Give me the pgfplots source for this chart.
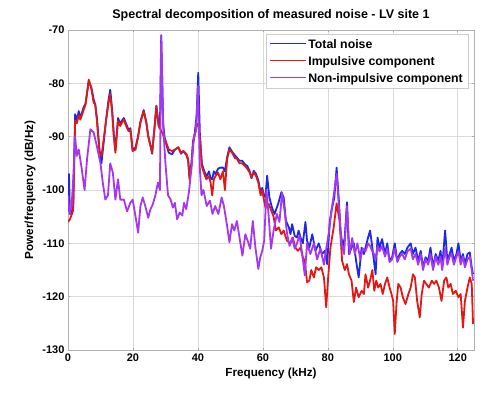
\documentclass[border=0pt]{standalone}
\usepackage{pgfplots}
\pgfplotsset{compat=1.18}
\usepackage{fontspec}
\setmainfont{Liberation Sans}
\definecolor{cblue}{RGB}{30,40,230}
\definecolor{cred}{RGB}{225,25,20}
\definecolor{cpurple}{RGB}{165,55,240}
\begin{document}
\begin{tikzpicture}
\path[use as bounding box] (-68pt,-42pt) rectangle (432pt,350pt);
\begin{axis}[
 at={(0pt,0pt)}, anchor=south west,
 scale only axis, width=406pt, height=320pt,
 xmin=0, xmax=125, ymin=-130, ymax=-70,
 xtick={0,20,...,120}, ytick={-130,-120,...,-70},
 grid=major, major grid style={gray!30, line width=0.6pt},
 axis line style={gray!60, line width=0.8pt},
 tick style={gray!70, line width=0.6pt}, tick align=inside, major tick length=2pt,
 tick label style={font=\bfseries\fontsize{11}{13}\selectfont},
 /pgf/number format/assume math mode=true,
 title style={font=\bfseries\fontsize{12.5}{14}\selectfont, yshift=-1pt},
 label style={font=\bfseries\fontsize{11.7}{14}\selectfont},
 title={Spectral decomposition of measured noise - LV site 1},
 xlabel={Frequency (kHz)}, ylabel={Power/frequency (dB/Hz)},
 legend style={at={(0.9852,0.9875)}, anchor=north east, draw=gray!40, fill=white,
   font=\bfseries\fontsize{12.3}{14}\selectfont, row sep=2.6pt, inner sep=3pt},
 legend cell align=left,
 legend image code/.code={\draw[#1, line width=1.6pt] (0pt,0.8pt) -- (36pt,0.8pt);},
 every axis plot/.append style={line width=1.8pt, line join=round},
]
% Total noise
\addplot[cblue] coordinates {
(0,-104) (0.3,-97) (0.6,-104.5) (1.2,-104) (1.6,-103) (2.2,-85.8) (2.7,-87) (3.3,-85.2) (3.8,-86.5) (4.8,-84.5)
(5.4,-83.8) (6.4,-79.5) (7.2,-80.8) (7.9,-83) (8.4,-84) (8.9,-86.5) (9.7,-92.5) (10.3,-95) (11,-91) (11.7,-87)
(12.5,-83) (13,-81.2) (13.6,-85) (14.1,-89.5) (14.6,-92.5) (15.4,-86.5) (16.1,-87.6) (16.6,-87) (17.2,-86.5) (17.9,-87.6)
(18.7,-88.8) (19.2,-88.4) (19.9,-92.5) (20.8,-92) (21.6,-89.8) (22.3,-87.2) (23.3,-85) (24.1,-87.2) (24.7,-89.8) (25.4,-91.6)
(25.9,-93.2) (26.7,-87.8) (27.2,-84.2) (27.9,-87.8) (28.3,-88.5) (28.7,-71) (29.3,-87.5) (29.7,-90) (30.2,-91.3) (31,-93)
(32,-93.3) (33,-92.4) (34,-92) (34.8,-93.2) (35.5,-92.7) (36.5,-93.5) (37,-94.5) (37.4,-97.5) (38,-95) (38.5,-90.8)
(39,-89.5) (39.6,-86) (40.1,-78) (40.6,-89.5) (41.2,-95) (41.8,-96.2) (42.6,-97.5) (43.4,-96.5) (43.9,-97.8) (44.4,-98)
(44.9,-96.5) (45.4,-97) (46.2,-96) (46.9,-95.8) (47.7,-95.8) (48.3,-96.5) (49,-93.8) (49.7,-92) (50.5,-92.8) (51.4,-93.5)
(52.1,-94) (52.8,-94.5) (53.6,-94.5) (54.5,-95.2) (55.2,-95.5) (55.9,-96.4) (56.5,-97.8) (57.2,-96.4) (57.9,-97) (58.6,-98.2)
(59.3,-100.5) (59.8,-99.6) (60.3,-101) (60.8,-101.4) (61.3,-97.3) (62.0,-101.4) (62.8,-103.3) (63.6,-104.5) (64.7,-102.6) (65.7,-100.4)
(66.4,-101.4) (67.1,-105.8) (68.0,-107) (68.5,-108.3) (69.0,-106.4) (69.8,-108.6) (70.5,-108.9) (71.0,-107.6) (71.6,-108.9) (72.3,-110)
(73.1,-106) (73.6,-109.5) (74.3,-110.8) (75.2,-108.3) (76.2,-111.4) (77.2,-110) (78.2,-112) (79.1,-111.4) (79.8,-113.9) (80.6,-105.8)
(81.3,-103.3) (82.0,-101.4) (82.7,-95.8) (83.4,-102) (83.9,-107.6) (84.6,-110.8) (85.2,-108.9) (85.9,-102.3) (86.5,-112) (87.3,-110.8)
(88.0,-110) (88.7,-113.3) (89.5,-116.4) (90.4,-110.8) (91.1,-112) (91.6,-110.8) (92.4,-108.9) (93,-107.6) (93.7,-110.8) (94.2,-113.3)
(94.7,-115.8) (95.3,-108.9) (95.9,-110.8) (96.7,-109.2) (97.6,-112) (98.3,-110) (99,-113.3) (99.8,-112.6) (100.6,-110) (101.4,-113.3)
(102.1,-112) (102.9,-111.4) (103.7,-112) (104.5,-110.8) (105.5,-110) (106.2,-112) (107,-110.8) (107.8,-113.3) (108.6,-111.4) (109.3,-114.5)
(110.1,-112.6) (110.9,-113.3) (111.6,-110.8) (112.4,-114.5) (113.2,-112) (114,-113.3) (114.7,-111.4) (115.2,-114.5) (116.1,-107.6) (116.8,-113.3)
(117.5,-112) (118.1,-110.8) (118.8,-113.3) (119.6,-112) (120.2,-110) (120.9,-113.3) (121.6,-112) (122.2,-113.9) (123,-112) (123.7,-111.7)
(124.3,-114.5) (124.7,-115.8)
};
\addlegendentry{Total noise}
% Impulsive component
\addplot[cred] coordinates {
(0,-106) (0.6,-105.5) (1.2,-104.5) (1.6,-103.8) (2.2,-87) (2.7,-87.5) (3.3,-86) (3.8,-86.8) (4.8,-85) (5.4,-84)
(6.4,-79.3) (7.2,-81) (7.9,-83.6) (8.4,-84) (8.9,-87) (9.7,-93) (10.3,-93.6) (11,-90.5) (11.7,-87) (12.5,-83.6)
(13,-82) (13.6,-85.5) (14.1,-90) (14.6,-93) (15.4,-87) (16.1,-88) (16.6,-87.4) (17.2,-86.8) (17.9,-88) (18.7,-89)
(19.2,-88.7) (19.9,-92.7) (20.8,-92.4) (21.6,-90) (22.3,-87.4) (23.3,-85.2) (24.1,-87.4) (24.7,-90) (25.4,-91.8) (25.9,-93)
(26.7,-88) (27.2,-84.3) (27.9,-88) (28.8,-89) (29.5,-90) (30.2,-91) (31,-92.4) (32,-92.7) (33,-92.4) (34,-92)
(34.8,-93) (35.5,-92.7) (36.5,-93.3) (37,-94.2) (37.4,-98) (38,-95.5) (38.5,-91.4) (39,-89.8) (39.6,-87.5) (40.1,-88)
(40.6,-90) (41.2,-95.5) (41.8,-96.7) (42.6,-98) (43.4,-97.4) (43.9,-98.6) (44.4,-101) (44.9,-98) (45.4,-97.4) (46.2,-96.7)
(46.9,-98) (47.7,-96.5) (48.3,-100) (49,-94.2) (49.7,-92.4) (50.5,-93) (51.4,-94) (52.1,-94.2) (52.8,-95) (53.6,-95)
(54.5,-95.5) (55.2,-96) (55.9,-96.7) (56.5,-97.6) (57.2,-96.7) (57.9,-97.4) (58.6,-98.6) (59.3,-101) (59.8,-100) (60.3,-101.8)
(60.8,-103.3) (61.8,-102.6) (62.6,-103.9) (63.3,-105) (64.0,-107.6) (64.9,-107) (65.7,-108.3) (66.4,-107.6) (67.4,-109.5) (68.5,-110)
(69.2,-108.9) (70.0,-110.8) (70.8,-111.4) (71.6,-110.8) (72.3,-112.6) (72.9,-113.3) (73.6,-117.3) (74.3,-117) (74.9,-115) (75.7,-116.4)
(76.4,-114.5) (77.2,-115) (78.0,-114.5) (78.8,-116.4) (79.5,-122) (80.1,-116.4) (80.8,-110.8) (81.8,-107) (82.7,-102.5) (83.6,-105.8)
(84.4,-113.3) (85.2,-115) (85.9,-113.9) (86.5,-115.8) (87.3,-117) (88.0,-121) (88.7,-118.3) (89.5,-120.1) (90.4,-118.9) (91.1,-119.5)
(91.6,-115.8) (92.4,-118.3) (93.0,-117) (93.7,-115) (94.3,-118.9) (94.9,-117) (95.5,-118.3) (96.2,-117.6) (96.9,-119.5) (97.6,-117.6)
(98.3,-116.4) (99.0,-118.3) (99.6,-119.5) (100.1,-120.8) (100.6,-127) (101.2,-120.8) (101.7,-117.6) (102.4,-118.3) (103.1,-120.1) (103.9,-121.4)
(104.8,-119.5) (105.5,-118.3) (106.2,-115.8) (106.8,-116.4) (107.5,-120.8) (108.3,-123.9) (108.9,-119.5) (109.6,-117) (110.3,-117.6) (111.1,-118.3)
(112,-117) (112.7,-117.6) (113.4,-117) (114.2,-118.3) (115,-120.8) (115.8,-117) (116.5,-116.4) (117.1,-118.3) (117.8,-117.6) (118.5,-119.5)
(119.4,-118.9) (120.2,-120.1) (120.9,-119.5) (121.6,-125.8) (122.2,-120.8) (123,-118.3) (123.7,-116.4) (124.3,-117.6) (124.7,-125.1)
};
\addlegendentry{Impulsive component}
% Non-impulsive component
\addplot[cpurple] coordinates {
(0,-101) (0.5,-104.5) (1.1,-103) (1.6,-98) (2.2,-90) (2.7,-93.6) (3.3,-92.4) (4.1,-95.5) (5.1,-100) (5.9,-94)
(6.9,-88.6) (7.9,-89.2) (8.9,-91.8) (10,-95) (10.7,-98.6) (11.5,-101.8) (12.3,-101) (13,-95) (13.8,-96.7) (14.6,-101.8)
(15.4,-98) (16.1,-101.8) (17.2,-101.8) (18.2,-104) (19.2,-102.4) (19.9,-101.8) (20.8,-105) (21.6,-108) (22.3,-103) (23,-101.4)
(23.8,-103) (24.7,-105.2) (25.4,-103.6) (26.1,-102.7) (26.9,-101) (27.7,-98.6) (28.3,-100) (28.7,-71) (29.3,-88) (30,-95)
(30.8,-101) (31.6,-101.8) (32.3,-103.3) (32.9,-102.4) (33.6,-105.5) (34.4,-104.2) (35.2,-104.8) (35.7,-102.4) (36.4,-103.6) (37.2,-100.5)
(38,-96) (38.8,-89.8) (39.4,-89) (40,-80.5) (40.6,-96) (41.1,-101) (41.7,-100) (42.7,-103) (43.7,-102) (44.5,-104.5)
(45.3,-103) (46.3,-104.5) (47.3,-101.4) (48,-103) (48.9,-106.4) (49.7,-109.8) (50.5,-106.4) (51.2,-107.6) (52,-105.8) (52.8,-108.9)
(53.7,-112.3) (54.6,-108.3) (55.3,-109.5) (56.1,-111) (56.9,-105.8) (57.7,-110.8) (58.6,-114.8) (59.2,-112.6) (59.8,-111.4) (60.4,-109.5)
(61.1,-100) (61.8,-105) (62.5,-111) (63.3,-107.6) (64.3,-104.5) (65.1,-106) (65.9,-100.5) (66.7,-104) (67.4,-108) (68.2,-110.5)
(69,-109) (69.8,-111) (70.5,-110) (71.3,-108.5) (72.1,-112) (72.9,-116) (73.6,-110) (74.6,-112) (75.7,-110) (76.7,-113)
(77.7,-111) (78.8,-114) (79.5,-111) (80.3,-108) (81.1,-104) (81.8,-101) (82.7,-97) (83.4,-103) (84.2,-110) (85,-112)
(85.9,-103) (86.7,-112) (87.5,-109) (88.3,-112) (89.1,-110) (90,-113) (90.8,-111) (91.6,-111.5) (92.4,-110) (93,-110.5)
(93.7,-111.5) (94.2,-112) (94.7,-113) (95.3,-110.5) (95.9,-111.5) (96.7,-110.5) (97.6,-112.5) (98.3,-111) (99,-113.5) (99.8,-113)
(100.6,-111) (101.4,-113.5) (102.1,-112.5) (102.9,-112) (103.7,-113) (104.5,-111.5) (105.5,-111) (106.2,-113) (107,-112) (107.8,-114)
(108.6,-112) (109.3,-115) (110.1,-113) (110.9,-114) (111.6,-112) (112.4,-115) (113.2,-112.5) (114,-114) (114.7,-112.5) (115.2,-115)
(116.1,-111) (116.8,-114) (117.5,-112.5) (118.1,-112) (118.8,-114) (119.6,-112.5) (120.2,-111.5) (120.9,-114) (121.6,-112.5) (122.2,-114.5)
(123,-113) (123.7,-112.5) (124.3,-115) (124.7,-117)
};
\addlegendentry{Non-impulsive component}
\end{axis}
\end{tikzpicture}
\end{document}
